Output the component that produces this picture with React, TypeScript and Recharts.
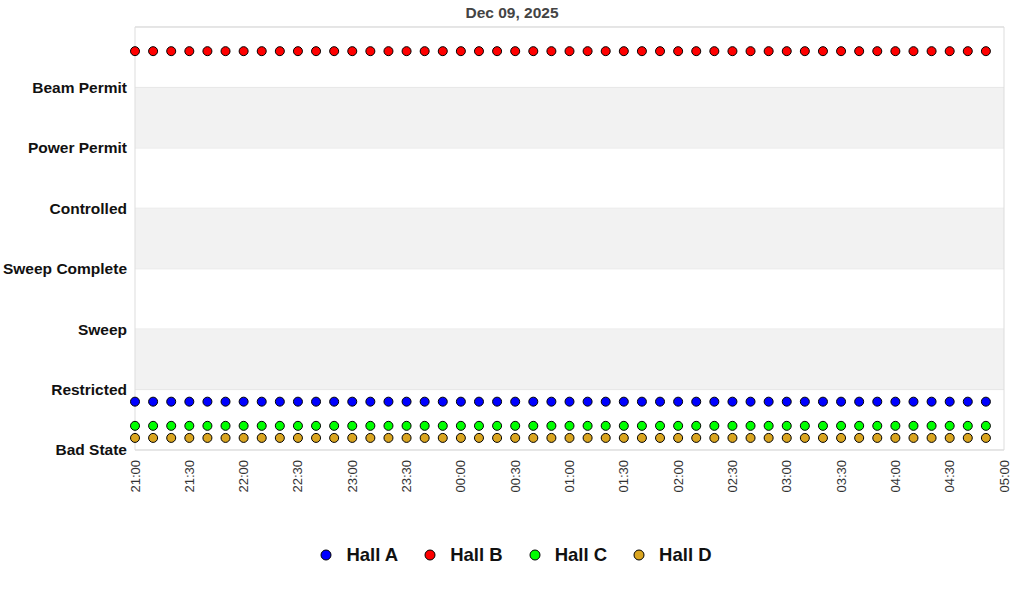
import React from "react";
import {
  ScatterChart,
  Scatter,
  XAxis,
  YAxis,
  CartesianGrid,
  ReferenceArea,
  Legend,
} from "recharts";

const title = "Dec 09, 2025";

const times = [
  "21:00", "21:10", "21:20", "21:30", "21:40", "21:50",
  "22:00", "22:10", "22:20", "22:30", "22:40", "22:50",
  "23:00", "23:10", "23:20", "23:30", "23:40", "23:50",
  "00:00", "00:10", "00:20", "00:30", "00:40", "00:50",
  "01:00", "01:10", "01:20", "01:30", "01:40", "01:50",
  "02:00", "02:10", "02:20", "02:30", "02:40", "02:50",
  "03:00", "03:10", "03:20", "03:30", "03:40", "03:50",
  "04:00", "04:10", "04:20", "04:30", "04:40", "04:50",
];

const hallA = [
  0.8, 0.8, 0.8, 0.8, 0.8, 0.8, 0.8, 0.8, 0.8, 0.8, 0.8, 0.8,
  0.8, 0.8, 0.8, 0.8, 0.8, 0.8, 0.8, 0.8, 0.8, 0.8, 0.8, 0.8,
  0.8, 0.8, 0.8, 0.8, 0.8, 0.8, 0.8, 0.8, 0.8, 0.8, 0.8, 0.8,
  0.8, 0.8, 0.8, 0.8, 0.8, 0.8, 0.8, 0.8, 0.8, 0.8, 0.8, 0.8,
];
const hallB = [
  6.6, 6.6, 6.6, 6.6, 6.6, 6.6, 6.6, 6.6, 6.6, 6.6, 6.6, 6.6,
  6.6, 6.6, 6.6, 6.6, 6.6, 6.6, 6.6, 6.6, 6.6, 6.6, 6.6, 6.6,
  6.6, 6.6, 6.6, 6.6, 6.6, 6.6, 6.6, 6.6, 6.6, 6.6, 6.6, 6.6,
  6.6, 6.6, 6.6, 6.6, 6.6, 6.6, 6.6, 6.6, 6.6, 6.6, 6.6, 6.6,
];
const hallC = [
  0.4, 0.4, 0.4, 0.4, 0.4, 0.4, 0.4, 0.4, 0.4, 0.4, 0.4, 0.4,
  0.4, 0.4, 0.4, 0.4, 0.4, 0.4, 0.4, 0.4, 0.4, 0.4, 0.4, 0.4,
  0.4, 0.4, 0.4, 0.4, 0.4, 0.4, 0.4, 0.4, 0.4, 0.4, 0.4, 0.4,
  0.4, 0.4, 0.4, 0.4, 0.4, 0.4, 0.4, 0.4, 0.4, 0.4, 0.4, 0.4,
];
const hallD = [
  0.2, 0.2, 0.2, 0.2, 0.2, 0.2, 0.2, 0.2, 0.2, 0.2, 0.2, 0.2,
  0.2, 0.2, 0.2, 0.2, 0.2, 0.2, 0.2, 0.2, 0.2, 0.2, 0.2, 0.2,
  0.2, 0.2, 0.2, 0.2, 0.2, 0.2, 0.2, 0.2, 0.2, 0.2, 0.2, 0.2,
  0.2, 0.2, 0.2, 0.2, 0.2, 0.2, 0.2, 0.2, 0.2, 0.2, 0.2, 0.2,
];

const xTickLabels = [
  "21:00", "21:30", "22:00", "22:30", "23:00", "23:30", "00:00", "00:30",
  "01:00", "01:30", "02:00", "02:30", "03:00", "03:30", "04:00", "04:30", "05:00",
];

const yLabels = [
  "Bad State", "Restricted", "Sweep", "Sweep Complete",
  "Controlled", "Power Permit", "Beam Permit", "",
];

const seriesNames = ["Hall A", "Hall B", "Hall C", "Hall D"];
const seriesColors = ["#0000ff", "#ff0000", "#00ff00", "#daa520"];
const seriesValues = [hallA, hallB, hallC, hallD];

const toMinutes = (s: string) => {
  const [h, m] = s.split(":").map(Number);
  const hh = h >= 21 ? h - 21 : h + 3;
  return hh * 60 + m;
};

const xTicks = xTickLabels.map(toMinutes).map((v, i) => (i === xTickLabels.length - 1 ? 480 : v));
const yTicks = yLabels.map((_, i) => i);

const FONT = "'Liberation Sans', Arial, sans-serif";

const XTick = (props: any) => {
  const { x, y, index } = props;
  return (
    <text
      x={x}
      y={y}
      transform={`rotate(-90, ${x}, ${y})`}
      textAnchor="end"
      dy="0.35em"
      fontSize={13}
      fontFamily={FONT}
      fill="#333"
    >
      {xTickLabels[index]}
    </text>
  );
};

const YTick = (props: any) => {
  const { x, y, payload } = props;
  return (
    <text
      x={x}
      y={y}
      textAnchor="end"
      dy="0.35em"
      fontSize={15.5}
      fontWeight="bold"
      fontFamily={FONT}
      fill="#111"
    >
      {yLabels[payload.value]}
    </text>
  );
};

const LegendContent = () => (
  <div
    style={{
      display: "flex",
      justifyContent: "center",
      alignItems: "center",
      fontFamily: FONT,
      fontWeight: "bold",
      fontSize: 18.5,
      color: "#111",
      marginLeft: 8,
    }}
  >
    {seriesNames.map((n, i) => (
      <div key={n} style={{ display: "flex", alignItems: "center", margin: "0 13px" }}>
        <svg width={12} height={12}>
          <circle cx={6} cy={6} r={5} fill={seriesColors[i]} stroke="#000" strokeWidth={1} />
        </svg>
        <span style={{ marginLeft: 14 }}>{n}</span>
      </div>
    ))}
  </div>
);

const makeShape = (color: string) => (p: any) => (
  <circle cx={p.cx} cy={p.cy} r={4.5} fill={color} stroke="#000" strokeWidth={1} />
);

export default function App() {
  return (
    <div style={{ position: "absolute", left: 0, top: 0, width: 1024, height: 600, background: "#fff" }}>
      <div
        style={{
          position: "absolute",
          left: 0,
          top: 4,
          width: 1024,
          textAlign: "center",
          fontFamily: FONT,
          fontWeight: "bold",
          fontSize: 15.5,
          color: "#444",
        }}
      >
        {title}
      </div>
      <ScatterChart
        width={1024}
        height={600}
        margin={{ top: 27, right: 20, bottom: 90, left: 0 }}
      >
        <ReferenceArea x1={0} x2={480} y1={1} y2={2} fill="#f2f2f2" fillOpacity={1} stroke="none" />
        <ReferenceArea x1={0} x2={480} y1={3} y2={4} fill="#f2f2f2" fillOpacity={1} stroke="none" />
        <ReferenceArea x1={0} x2={480} y1={5} y2={6} fill="#f2f2f2" fillOpacity={1} stroke="none" />
        <CartesianGrid vertical={false} stroke="#dddddd" />
        <ReferenceArea x1={0} x2={480} y1={0} y2={7} fill="none" stroke="#dddddd" />
        <XAxis
          type="number"
          dataKey="t"
          domain={[0, 480]}
          ticks={xTicks}
          interval={0}
          axisLine={false}
          tickLine={false}
          tickSize={0}
          tickMargin={10}
          height={60}
          tick={<XTick />}
        />
        <YAxis
          type="number"
          dataKey="v"
          domain={[0, 7]}
          ticks={yTicks}
          interval={0}
          axisLine={false}
          tickLine={false}
          tickSize={0}
          tickMargin={8}
          width={135}
          tick={<YTick />}
        />
        <Legend
          verticalAlign="middle"
          layout="horizontal"
          wrapperStyle={{ top: 544, left: 0, width: 1024 }}
          content={<LegendContent />}
        />
        {seriesValues.map((vals, i) => (
          <Scatter
            key={seriesNames[i]}
            name={seriesNames[i]}
            data={vals.map((v, j) => ({ t: toMinutes(times[j]), v }))}
            fill={seriesColors[i]}
            shape={makeShape(seriesColors[i])}
            isAnimationActive={false}
          />
        ))}
      </ScatterChart>
    </div>
  );
}
